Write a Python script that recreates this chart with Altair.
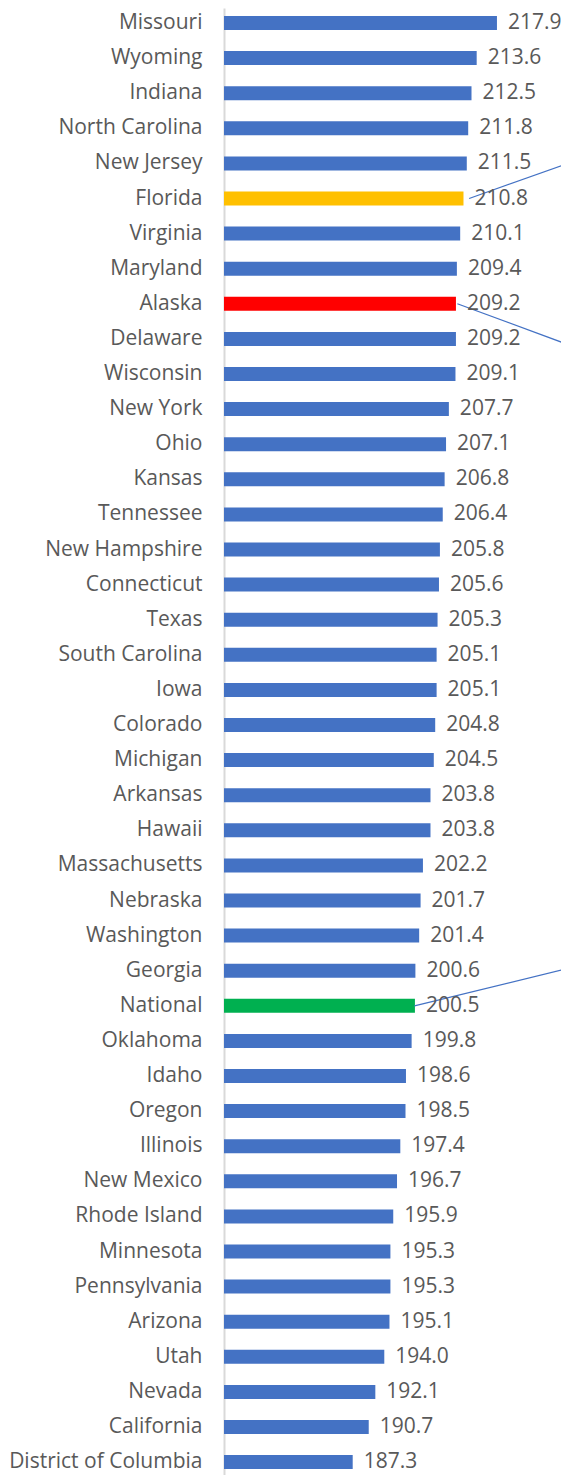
import altair as alt
import pandas as pd

states = ["Missouri", "Wyoming", "Indiana", "North Carolina", "New Jersey", "Florida",
          "Virginia", "Maryland", "Alaska", "Delaware", "Wisconsin", "New York", "Ohio",
          "Kansas", "Tennessee", "New Hampshire", "Connecticut", "Texas", "South Carolina",
          "Iowa", "Colorado", "Michigan", "Arkansas", "Hawaii", "Massachusetts", "Nebraska",
          "Washington", "Georgia", "National", "Oklahoma", "Idaho", "Oregon", "Illinois",
          "New Mexico", "Rhode Island", "Minnesota", "Pennsylvania", "Arizona", "Utah",
          "Nevada", "California", "District of Columbia"]
values = [217.9, 213.6, 212.5, 211.8, 211.5, 210.8, 210.1, 209.4, 209.2, 209.2, 209.1,
          207.7, 207.1, 206.8, 206.4, 205.8, 205.6, 205.3, 205.1, 205.1, 204.8, 204.5,
          203.8, 203.8, 202.2, 201.7, 201.4, 200.6, 200.5, 199.8, 198.6, 198.5, 197.4,
          196.7, 195.9, 195.3, 195.3, 195.1, 194.0, 192.1, 190.7, 187.3]
highlights = ["Florida", "Alaska", "National"]

# leader lines to call-outs outside the picture
leader_from = ["Florida", "Alaska", "National"]
leader_to = ["North Carolina", "Wisconsin", "Washington"]
leader_x_start = [212.0, 209.5, 200.4]
leader_x_end = [253.8, 249.9, 261.6]

AXIS_MIN = 160

df = pd.DataFrame({"state": states, "value": values})
df["group"] = [s if s in highlights else "Other" for s in states]
lead = pd.DataFrame({"state": leader_from, "to": leader_to,
                     "x0": leader_x_start, "x1": leader_x_end})

FONT = "Open Sans"
TXT = "#595959"

yscale = alt.Scale(domain=states, paddingInner=0.601, paddingOuter=0.198, align=0.576)
xscale = alt.Scale(domain=[AXIS_MIN, 230], nice=False, zero=False)

y_enc = alt.Y("state:N", sort=None, scale=yscale, title=None,
              axis=alt.Axis(ticks=False, labelPadding=22, labelFontSize=21,
                            labelFont=FONT, labelColor=TXT, domainColor="#D9D9D9",
                            domainWidth=2, labelLimit=300))

bars = alt.Chart(df).mark_bar().encode(
    x=alt.X("value:Q", scale=xscale, axis=None),
    x2=alt.datum(AXIS_MIN),
    y=y_enc,
    color=alt.Color("group:N", legend=None,
                    scale=alt.Scale(domain=["Other", "Florida", "Alaska", "National"],
                                    range=["#4472C4", "#FFC000", "#FF0000", "#00B050"])),
)

labels = alt.Chart(df).mark_text(align="left", baseline="middle", dx=11,
                                 fontSize=21, font=FONT, color=TXT).encode(
    x=alt.X("value:Q", scale=xscale, axis=None),
    y=alt.Y("state:N", sort=None, scale=yscale),
    text=alt.Text("value:Q", format=".1f"),
)

leaders = alt.Chart(lead).mark_rule(color="#4472C4", strokeWidth=1.2, clip=False).encode(
    x=alt.X("x0:Q", scale=xscale, axis=None),
    x2="x1:Q",
    y=alt.Y("state:N", sort=None, scale=yscale, bandPosition=0.5),
    y2=alt.Y2("to:N", bandPosition=0.5),
)

chart = alt.layer(bars, leaders, labels).properties(
    width=330, height=1467,
    autosize=alt.AutoSizeParams(type="none"),
    padding={"left": 216, "top": 0, "right": 7, "bottom": 0},
).configure_view(stroke=None)

chart.save("out.html", embed_options={"renderer": "svg", "actions": False})
